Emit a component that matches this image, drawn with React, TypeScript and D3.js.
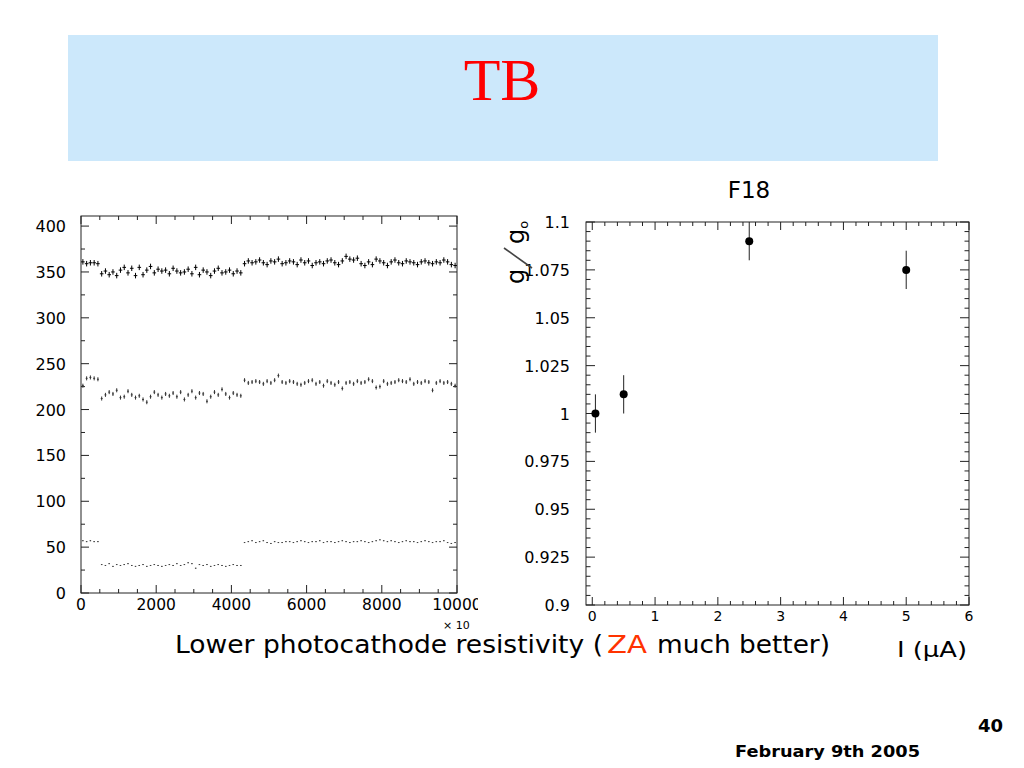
import React from 'react';
import * as d3 from 'd3';

// ---------- Left histogram data (bins of width 100, x 0..10000) ----------
const binWidth = 100;
const topSeries = [
  361, 359, 360, 360, 359, 348, 351, 347, 350, 346,
  352, 355, 349, 354, 346, 355, 347, 352, 356, 349,
  353, 351, 352, 348, 354, 351, 349, 350, 353, 348,
  355, 347, 352, 350, 346, 351, 354, 349, 350, 352,
  348, 351, 349, 359, 362, 360, 361, 363, 360, 358,
  362, 361, 364, 359, 360, 362, 361, 358, 363, 360,
  362, 357, 360, 361, 359, 362, 363, 360, 358, 362,
  367, 364, 363, 365, 359, 357, 361, 358, 364, 362,
  360, 357, 361, 363, 360, 359, 362, 361, 360, 358,
  361, 362, 360, 359, 361, 360, 363, 361, 358, 357,
];
const midSeries = [
  226, 234, 235, 234, 233, 212, 216, 219, 217, 221,
  213, 214, 220, 216, 213, 215, 211, 208, 214, 219,
  216, 213, 217, 215, 218, 214, 219, 211, 216, 220,
  213, 218, 217, 209, 214, 219, 216, 222, 217, 213,
  218, 216, 215, 232, 229, 230, 231, 230, 228, 231,
  229, 232, 237, 230, 229, 231, 230, 228, 227, 229,
  231, 232, 228, 230, 226, 231, 229, 227, 230, 223,
  229, 230, 228, 231, 229, 230, 233, 231, 224, 225,
  231, 228, 229, 230, 232, 231, 230, 233, 228, 230,
  229, 231, 230, 221, 229, 231, 229, 230, 228, 226,
];
const lowSeries = [
  57, 56, 57, 56, 56, 31, 30, 32, 29, 31,
  30, 31, 32, 30, 29, 30, 31, 29, 30, 31,
  30, 29, 30, 31, 30, 32, 30, 31, 33, 32,
  27, 31, 30, 31, 29, 30, 31, 30, 29, 30,
  31, 30, 30, 55, 56, 57, 55, 56, 57, 55,
  54, 56, 55, 55, 56, 56, 55, 56, 57, 56,
  55, 56, 56, 57, 55, 56, 56, 55, 56, 57,
  56, 55, 56, 56, 57, 56, 55, 56, 57, 58,
  57, 56, 57, 56, 55, 56, 57, 56, 56, 55,
  56, 57, 56, 55, 56, 56, 57, 55, 54, 55,
];
const seriesErrors = [3.0, 2.2, 0.5];
const leftYTicks = [0, 50, 100, 150, 200, 250, 300, 350, 400];
const leftXTicks = [0, 2000, 4000, 6000, 8000, 10000];

// ---------- Right plot data ----------
const currentUA = [0.05, 0.5, 2.5, 5.0];
const gainRatio = [1.0, 1.01, 1.09, 1.075];
const gainErr = [0.01, 0.01, 0.01, 0.01];
const rightYTicks = [0.9, 0.925, 0.95, 0.975, 1.0, 1.025, 1.05, 1.075, 1.1];
const rightYLabels = ['0.9', '0.925', '0.95', '0.975', '1', '1.025', '1.05', '1.075', '1.1'];
const rightXTicks = [0, 1, 2, 3, 4, 5, 6];

const AX_FONT = "'DejaVu Sans', 'Liberation Sans', sans-serif";
const CAP_FONT = "'DejaVu Sans', 'Noto Sans', sans-serif";

export default function App() {
  // left frame
  const L = { x0: 81, x1: 457, y0: 216, y1: 593 };
  const lx = d3.scaleLinear().domain([0, 10000]).range([L.x0, L.x1]);
  const ly = d3.scaleLinear().domain([0, 411]).range([L.y1, L.y0]);

  // right frame
  const R = { x0: 586, x1: 969, y0: 222, y1: 605 };
  const rx = d3.scaleLinear().domain([-0.1, 6]).range([R.x0, R.x1]);
  const ry = d3.scaleLinear().domain([0.9, 1.1]).range([R.y1, R.y0]);

  const leftYMinor = d3.range(0, 401, 25);
  const leftXMinor = d3.range(0, 10001, 500);
  const rightYMinor = d3.range(0, 41).map((i) => 0.9 + i * 0.005);
  const rightXMinor = d3.range(0, 31).map((i) => i * 0.2);

  const series = [
    { data: topSeries, err: seriesErrors[0], half: 0.48, color: '#000', sw: 1 },
    { data: midSeries, err: seriesErrors[1], half: 0.25, color: '#333', sw: 1 },
    { data: lowSeries, err: seriesErrors[2], half: 0.2, color: '#444', sw: 1 },
  ];

  const bw = lx(binWidth) - lx(0);

  return (
    <svg width={1024} height={768} style={{ position: 'absolute', left: 0, top: 0, background: '#fff' }}>
      <defs>
        <clipPath id="leftClip">
          <rect x={0} y={200} width={478} height={440} />
        </clipPath>
      </defs>
      {/* banner */}
      <rect x={68} y={35} width={870} height={126} fill="#CCE8FB" />
      <text x={502} y={100} textAnchor="middle" fontFamily="'Liberation Serif', 'DejaVu Serif', serif" fontSize={60} fill="#FF0000">TB</text>

      {/* ---------- Left chart ---------- */}
      <g clipPath="url(#leftClip)">
        <rect x={L.x0} y={L.y0} width={L.x1 - L.x0} height={L.y1 - L.y0} fill="none" stroke="#222" strokeWidth={1} />
        {leftYMinor.map((v) => {
          const len = v % 50 === 0 ? 8 : 4;
          const y = ly(v);
          return (
            <g key={'ly' + v}>
              <line x1={L.x0} x2={L.x0 + len} y1={y} y2={y} stroke="#222" />
              <line x1={L.x1} x2={L.x1 - len} y1={y} y2={y} stroke="#222" />
            </g>
          );
        })}
        {leftXMinor.map((v) => {
          const len = v % 2000 === 0 ? 8 : 4;
          const x = lx(v);
          return (
            <g key={'lx' + v}>
              <line x1={x} x2={x} y1={L.y1} y2={L.y1 - len} stroke="#222" />
              <line x1={x} x2={x} y1={L.y0} y2={L.y0 + len} stroke="#222" />
            </g>
          );
        })}
        {leftYTicks.map((v) => (
          <text key={'lyl' + v} x={66} y={ly(v) + 6} textAnchor="end" fontFamily={AX_FONT} fontSize={16} fill="#000">{v}</text>
        ))}
        {leftXTicks.map((v) => (
          <text key={'lxl' + v} x={lx(v)} y={610} textAnchor="middle" fontFamily={AX_FONT} fontSize={15.5} fill="#000">{v}</text>
        ))}
        {series.map((s, si) => (
          <g key={'s' + si} stroke={s.color} strokeWidth={s.sw}>
            {s.data.map((val, i) => {
              const cx = lx(i * binWidth + binWidth / 2);
              const cy = ly(val);
              return (
                <g key={i}>
                  <line x1={cx - bw * s.half} x2={cx + bw * s.half} y1={cy} y2={cy} />
                  <line x1={cx} x2={cx} y1={ly(val - s.err)} y2={ly(val + s.err)} />
                </g>
              );
            })}
          </g>
        ))}
      </g>
      <text x={443} y={629} fontFamily={AX_FONT} fontSize={11} fill="#000">× 10</text>

      {/* ---------- Right chart ---------- */}
      <text x={749} y={198} textAnchor="middle" fontFamily={AX_FONT} fontSize={23} fill="#000">F18</text>
      <rect x={R.x0} y={R.y0} width={R.x1 - R.x0} height={R.y1 - R.y0} fill="none" stroke="#222" strokeWidth={1} />
      {rightYMinor.map((v, i) => {
        const len = i % 5 === 0 ? 9 : 4.5;
        const y = ry(v);
        return (
          <g key={'ry' + i}>
            <line x1={R.x0} x2={R.x0 + len} y1={y} y2={y} stroke="#222" />
            <line x1={R.x1} x2={R.x1 - len} y1={y} y2={y} stroke="#222" />
          </g>
        );
      })}
      {rightXMinor.map((v, i) => {
        const len = i % 5 === 0 ? 8 : 4;
        const x = rx(v);
        return (
          <g key={'rx' + i}>
            <line x1={x} x2={x} y1={R.y1} y2={R.y1 - len} stroke="#222" />
            <line x1={x} x2={x} y1={R.y0} y2={R.y0 + len} stroke="#222" />
          </g>
        );
      })}
      {rightYTicks.map((v, i) => (
        <text key={'ryl' + i} x={570} y={ry(v) + 6} textAnchor="end" fontFamily={AX_FONT} fontSize={16} fill="#000">{rightYLabels[i]}</text>
      ))}
      {rightXTicks.map((v) => (
        <text key={'rxl' + v} x={rx(v)} y={621} textAnchor="middle" fontFamily={AX_FONT} fontSize={14} fill="#000">{v}</text>
      ))}
      {currentUA.map((c, i) => (
        <g key={'pt' + i}>
          <line x1={rx(c)} x2={rx(c)} y1={ry(gainRatio[i] - gainErr[i])} y2={ry(gainRatio[i] + gainErr[i])} stroke="#222" strokeWidth={1} />
          <circle cx={rx(c)} cy={ry(gainRatio[i])} r={4} fill="#000" />
        </g>
      ))}
      {/* y label g/g0 */}
      <g transform="translate(524,284) rotate(-90)">
        <text x={0} y={0} fontFamily={AX_FONT} fontSize={24} fill="#000">g</text>
        <line x1={16} y1={8} x2={36} y2={-20} stroke="#444" strokeWidth={1.6} />
        <text x={40} y={0} fontFamily={AX_FONT} fontSize={24} fill="#000">g<tspan fontSize={13} dy={4}>o</tspan></text>
      </g>
      <text x={897} y={657} fontFamily={AX_FONT} fontSize={21} fill="#000" textLength={70} lengthAdjust="spacingAndGlyphs">I (μA)</text>

      {/* caption */}
      <text x={175} y={653} fontFamily={CAP_FONT} fontSize={25} fill="#000" textLength={428} lengthAdjust="spacingAndGlyphs">Lower photocathode resistivity (</text>
      <text x={607} y={653} fontFamily={CAP_FONT} fontSize={25} fill="#FF3300" textLength={40} lengthAdjust="spacingAndGlyphs">ZA</text>
      <text x={657} y={653} fontFamily={CAP_FONT} fontSize={25} fill="#000" textLength={173} lengthAdjust="spacingAndGlyphs">much better)</text>

      {/* footer */}
      <text x={1003} y={732} textAnchor="end" fontFamily={CAP_FONT} fontWeight="bold" fontSize={18} fill="#000">40</text>
      <text x={735} y={757} fontFamily={CAP_FONT} fontWeight="bold" fontSize={16} fill="#000" textLength={185} lengthAdjust="spacingAndGlyphs">February 9th 2005</text>
    </svg>
  );
}
